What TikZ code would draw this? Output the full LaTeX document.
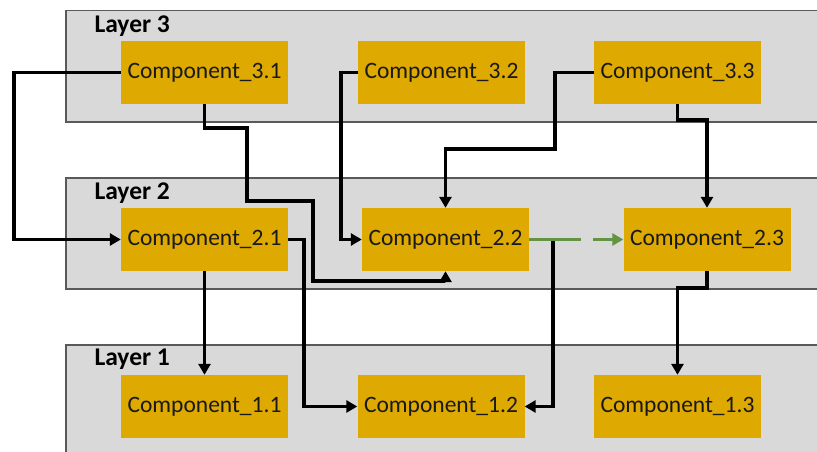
\documentclass[tikz,border=0pt]{standalone}
\usepackage{fontspec}
\setmainfont{Carlito}
\usetikzlibrary{arrows.meta}
\definecolor{compfill}{RGB}{222,169,0}
\definecolor{layerfill}{RGB}{217,217,217}
\definecolor{layerdraw}{RGB}{89,89,89}
\definecolor{flowgreen}{RGB}{98,148,68}
\tikzset{
  layer/.style={draw=layerdraw,line width=1.5pt,fill=layerfill,shape=rectangle,anchor=north west,minimum width=780pt,minimum height=111pt},
  layerlbl/.style={anchor=west,font=\fontsize{25.5}{30}\selectfont\bfseries},
  comp/.style={shape=rectangle,fill=compfill,minimum width=167pt,minimum height=63pt,font=\fontsize{23.5}{28}\selectfont,text=black!90},
  link/.style={line width=3.4pt,-{Triangle[length=11pt,width=12pt]}},
  glink/.style={line width=3.4pt,draw=flowgreen,dash pattern=on 52pt off 12pt,-{Triangle[length=11pt,width=12pt,fill=flowgreen]}}
}
\begin{document}
\begin{tikzpicture}[x=1pt,y=-1pt]
  \useasboundingbox (0,0) rectangle (817,452);
  %\draw[step=50pt,gray,very thin] (0,0) grid (817,452);
  % layers
  \node[layer] (L3) at (65,10) {};
  \node[layer] (L2) at (65,177) {};
  \node[layer] (L1) at (65,344) {};
  \node[layerlbl] (L3lbl) at (91,26) {Layer 3};
  \node[layerlbl] (L2lbl) at (91,193) {Layer 2};
  \node[layerlbl] (L1lbl) at (91,359) {Layer 1};
  % components
  \node[comp] (c31) at (204.5,72.5) {Component\_3.1};
  \node[comp] (c32) at (441.5,72.5) {Component\_3.2};
  \node[comp] (c33) at (677.5,72.5) {Component\_3.3};
  \node[comp] (c21) at (204.5,239.5) {Component\_2.1};
  \node[comp] (c22) at (445.5,239.5) {Component\_2.2};
  \node[comp] (c23) at (707,239.5) {Component\_2.3};
  \node[comp] (c11) at (204.5,406.5) {Component\_1.1};
  \node[comp] (c12) at (441,406.5) {Component\_1.2};
  \node[comp] (c13) at (677.5,406.5) {Component\_1.3};
  % connectors
  \draw[link] (c31.west) -- (14,72.5) |- (c21.west);
  \draw[link] (c31.south) |- (247,128) |- (313,201) -- (313,281) -| (c22.south);
  \draw[link] (c32.west) -- (341,72.5) |- (c22.west);
  \draw[link] (c33.west) -- (555,72.5) -- (555,149) -| (c22.north);
  \draw[link] (c33.south) |- (707,120) -- (c23.north);
  \draw[link] (c21.east) -- (304,239.5) |- (c12.west);
  \draw[link] (c21.south) -- (c11.north);
  \draw[link] (c22.east) -- (553,239.5) |- (c12.east);
  \draw[link] (c23.south) |- (677.5,288) -- (c13.north);
  \draw[glink] (c22.east) -- (c23.west);
\end{tikzpicture}
\end{document}
